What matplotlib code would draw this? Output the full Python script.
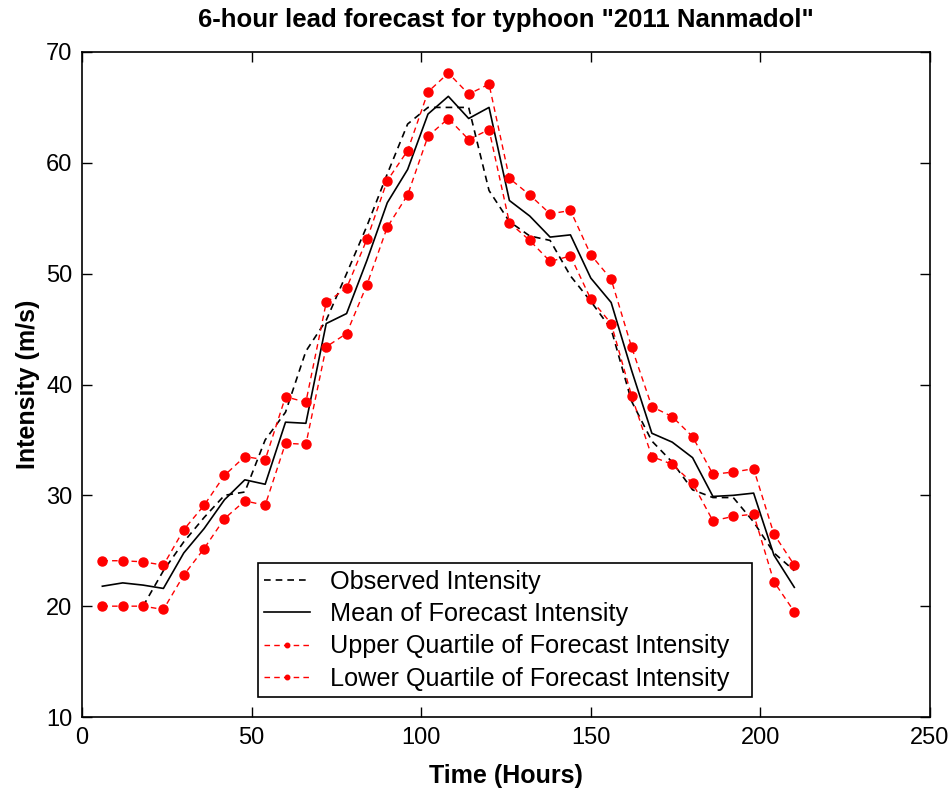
import numpy as np
import matplotlib
matplotlib.use("Agg")
import matplotlib.pyplot as plt

hours = [6, 12, 18, 24, 30, 36, 42, 48, 54, 60, 66, 72, 78, 84, 90, 96, 102, 108,
         114, 120, 126, 132, 138, 144, 150, 156, 162, 168, 174, 180, 186, 192, 198, 204, 210]

upper_q = [24.1, 24.1, 24.0, 23.7, 26.9, 29.1, 31.8, 33.5, 33.2, 38.9, 38.4, 47.4, 48.7,
           53.1, 58.4, 61.1, 66.4, 68.1, 66.2, 67.1, 58.6, 57.1, 55.4, 55.7, 51.7, 49.5,
           43.4, 38.0, 37.1, 35.3, 31.9, 32.1, 32.4, 26.5, 23.7]

lower_q = [20.0, 20.0, 20.0, 19.7, 22.8, 25.2, 27.9, 29.5, 29.1, 34.7, 34.6, 43.4, 44.6,
           49.0, 54.2, 57.1, 62.4, 64.0, 62.1, 63.0, 54.6, 53.0, 51.1, 51.6, 47.7, 45.5,
           39.0, 33.5, 32.8, 31.1, 27.7, 28.1, 28.3, 22.2, 19.5]

mean_fc = [21.8, 22.1, 21.9, 21.6, 24.8, 27.0, 29.6, 31.4, 31.0, 36.6, 36.5, 45.5, 46.4,
           51.2, 56.4, 59.4, 64.4, 66.0, 64.0, 65.0, 56.6, 55.2, 53.3, 53.5, 49.6, 47.4,
           41.3, 35.6, 34.8, 33.4, 29.9, 30.0, 30.2, 24.6, 21.7]

obs_hours = hours[2:]
observed = [20.0, 23.2, 25.8, 28.0, 30.0, 30.3, 35.0, 37.5, 43.0, 45.8, 50.0, 54.3, 59.0,
            63.5, 65.0, 65.0, 65.0, 57.5, 54.7, 53.4, 53.0, 49.8, 47.5, 45.0, 38.5, 34.9,
            33.0, 30.5, 29.8, 29.8, 27.6, 24.8, 23.2]

plt.rcParams['font.family'] = ['Liberation Sans', 'DejaVu Sans']

fig = plt.figure(figsize=(9.52, 7.89), dpi=100)
ax = fig.add_axes([82/952, 1-717/789, 848/952, 665/789])

ax.plot(obs_hours, observed, color='black', linestyle=(0, (4, 3)), linewidth=1.2,
        label='Observed Intensity')
ax.plot(hours, mean_fc, color='black', linestyle='-', linewidth=1.2,
        label='Mean of Forecast Intensity')
ax.plot(hours, upper_q, color='red', linestyle=(0, (4, 3)), linewidth=1.0,
        marker='o', markersize=6.5, label='Upper Quartile of Forecast Intensity')
ax.plot(hours, lower_q, color='red', linestyle=(0, (4, 3)), linewidth=1.0,
        marker='o', markersize=6.5, label='Lower Quartile of Forecast Intensity')

ax.set_xlim(0, 250)
ax.set_ylim(10, 70)
ax.set_xticks([0, 50, 100, 150, 200, 250])
ax.set_yticks([10, 20, 30, 40, 50, 60, 70])
ax.tick_params(direction='in', length=7, width=1, top=True, right=True,
               labelsize=17, pad=7)
for s in ax.spines.values():
    s.set_linewidth(1.2)

ax.set_title('6-hour lead forecast for typhoon "2011 Nanmadol"', fontsize=18.5,
             fontweight='bold', pad=18)
ax.set_xlabel('Time (Hours)', fontsize=18, fontweight='bold', labelpad=11)
ax.set_ylabel('Intensity (m/s)', fontsize=18, fontweight='bold', labelpad=4)

leg = ax.legend(loc='lower left', bbox_to_anchor=(0.2075, 0.03, 0.5825, 0.19),
                mode='expand', fontsize=18.2,
                frameon=True, fancybox=False, edgecolor='black', framealpha=1,
                handlelength=1.8, handletextpad=0.8, borderpad=0.25,
                labelspacing=0.33, markerscale=0.5, borderaxespad=0)
leg.get_frame().set_linewidth(1.2)

fig.savefig('out.png', dpi=100)
